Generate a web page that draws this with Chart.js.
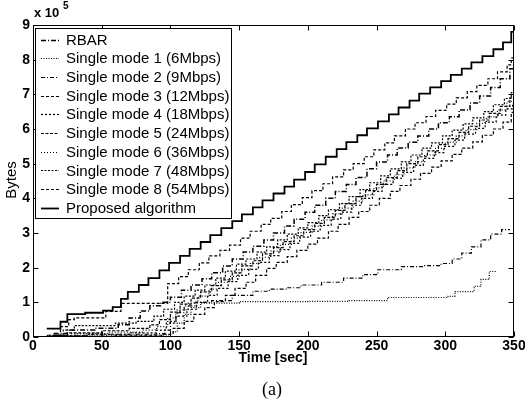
<!DOCTYPE html>
<html><head><meta charset="utf-8">
<script src="https://cdn.jsdelivr.net/npm/chart.js@4/dist/chart.umd.min.js"></script>
<style>html,body{margin:0;padding:0;background:#fff;}</style>
</head><body>
<canvas id="c" width="525" height="405" style="width:525px;height:405px;display:block"></canvas>
<script>
// Values in units of 1e5 bytes; time in seconds. Each point = time at which value steps to new level.
const seriesNames = ["RBAR","Single mode 1 (6Mbps)","Single mode 2 (9Mbps)","Single mode 3 (12Mbps)","Single mode 4 (18Mbps)","Single mode 5 (24Mbps)","Single mode 6 (36Mbps)","Single mode 7 (48Mbps)","Single mode 8 (54Mbps)","Proposed algorithm"];
const xTicks = [0,50,100,150,200,250,300,350];
const yTicks = [0,1,2,3,4,5,6,7,8,9];

const tRBAR = [15,25,45,62,70,78,85,93,100,108,115,123,130,138,145,153,160,168,175,183,190,198,205,213,220,228,235,243,250,258,265,273,280,288,295,303,310,318,325,333,340,347,350];
const vRBAR = [0.1,0.2,0.25,0.35,0.55,0.75,0.9,1.0,1.15,1.35,1.5,1.68,1.85,2.05,2.25,2.45,2.62,2.8,3.0,3.2,3.4,3.6,3.8,4.0,4.2,4.4,4.6,4.85,5.05,5.25,5.45,5.62,5.8,6.0,6.18,6.35,6.55,6.75,6.95,7.2,7.45,7.74,7.74];

const tSM1 = [10,50,95,100,105,110,115,122,150,200,230,258,302,307,321,326,332,337];
const vSM1 = [0.03,0.05,0.06,0.15,0.4,0.65,0.85,0.98,1.02,1.03,1.05,1.14,1.17,1.31,1.46,1.66,1.89,1.89];

const tSM2 = [10,40,90,96,100,104,110,118,130,145,160,172,185,195,210,226,240,251,268,285,297,305,312,319,326,333,341,347];
const vSM2 = [0.05,0.08,0.1,0.2,0.45,0.7,0.9,1.0,1.05,1.2,1.32,1.38,1.42,1.5,1.58,1.7,1.8,1.94,2.03,2.06,2.12,2.25,2.42,2.6,2.8,2.97,3.1,3.1];

const tSM3 = [20,60,95,102,110,117,125,132,140,147,155,162,170,177,185,192,200,207,215,222,230,237,245,252,260,267,275,282,290,297,305,312,320,327,335,342,348,350];
const vSM3 = [0.02,0.05,0.08,0.25,0.45,0.65,0.85,1.02,1.2,1.4,1.58,1.78,1.98,2.15,2.32,2.5,2.68,2.85,3.05,3.25,3.45,3.62,3.8,4.0,4.2,4.37,4.55,4.72,4.9,5.08,5.27,5.45,5.63,5.82,6.0,6.2,6.48,6.48];

const tSM4 = [18,40,70,90,97,104,112,119,127,134,142,149,157,164,172,179,187,194,202,209,217,224,232,239,247,254,262,269,277,284,292,299,307,314,322,329,337,344,349,350];
const vSM4 = [0.03,0.08,0.12,0.2,0.4,0.6,0.8,1.0,1.2,1.4,1.6,1.78,1.95,2.15,2.35,2.52,2.7,2.88,3.05,3.22,3.4,3.6,3.8,4.0,4.2,4.4,4.58,4.75,4.95,5.15,5.32,5.5,5.68,5.85,6.02,6.2,6.4,6.58,6.75,6.75];

const tSM5 = [15,25,50,70,85,92,100,107,115,122,130,137,145,152,160,167,175,182,190,197,205,212,220,227,235,242,250,257,265,272,280,287,295,302,310,317,325,332,340,347,350];
const vSM5 = [0.05,0.12,0.18,0.25,0.35,0.5,0.72,0.95,1.12,1.3,1.48,1.65,1.85,2.05,2.2,2.4,2.58,2.75,2.92,3.1,3.28,3.45,3.65,3.85,4.05,4.22,4.4,4.6,4.8,5.0,5.2,5.37,5.55,5.72,5.9,6.08,6.26,6.45,6.65,6.9,6.9];

const tSM6 = [14,28,55,80,90,98,105,113,120,128,135,143,150,158,165,173,180,188,195,203,210,218,225,233,240,248,255,263,270,278,285,293,300,308,315,323,330,338,345,350];
const vSM6 = [0.04,0.1,0.14,0.2,0.3,0.55,0.78,0.98,1.18,1.38,1.58,1.75,1.95,2.12,2.3,2.48,2.67,2.85,3.02,3.2,3.38,3.55,3.72,3.92,4.1,4.3,4.5,4.68,4.88,5.06,5.25,5.44,5.62,5.8,5.98,6.16,6.35,6.55,6.8,6.8];

const tSM7 = [12,22,30,60,75,88,95,103,110,118,125,133,140,148,155,163,170,178,185,193,200,208,215,223,230,238,245,253,260,268,275,283,290,298,305,313,320,328,335,343,348,350];
const vSM7 = [0.05,0.2,0.33,0.4,0.45,0.6,0.8,1.0,1.18,1.35,1.5,1.7,1.9,2.1,2.25,2.45,2.6,2.8,2.97,3.15,3.3,3.5,3.67,3.85,4.05,4.25,4.45,4.65,4.85,5.05,5.25,5.45,5.6,5.8,5.97,6.15,6.32,6.5,6.7,6.88,7.05,7.05];

const tSM8 = [15,20,26,30,53,64,98,106,113,121,128,136,143,151,158,166,173,181,188,196,203,211,218,226,233,241,248,256,263,271,278,286,293,301,308,316,323,331,338,345,348,350];
const vSM8 = [0.05,0.3,0.5,0.55,0.74,0.97,1.54,1.74,1.94,2.14,2.34,2.5,2.65,2.85,3.05,3.25,3.42,3.62,3.82,4.02,4.22,4.42,4.62,4.82,5.0,5.2,5.4,5.6,5.8,6.0,6.18,6.36,6.54,6.72,6.9,7.08,7.26,7.45,7.65,7.85,8.05,8.05];

const tProp = [10,20,25,38,51,58,64,69,77,84,92,99,107,114,122,129,137,145,152,160,167,175,183,190,198,205,213,221,228,236,243,251,259,266,274,281,289,297,304,312,319,327,335,342,348,350];
const vProp = [0.24,0.44,0.66,0.7,0.76,0.86,1.1,1.3,1.5,1.7,1.92,2.14,2.34,2.54,2.74,2.94,3.14,3.34,3.54,3.74,3.94,4.14,4.34,4.54,4.76,4.98,5.2,5.42,5.62,5.82,6.02,6.22,6.42,6.62,6.82,7.02,7.2,7.38,7.56,7.74,7.92,8.1,8.3,8.5,8.8,8.8];

const times = [tRBAR,tSM1,tSM2,tSM3,tSM4,tSM5,tSM6,tSM7,tSM8,tProp];
const values = [vRBAR,vSM1,vSM2,vSM3,vSM4,vSM5,vSM6,vSM7,vSM8,vProp];
const dashes = [[5,2,1,2],[1,1.5],[4,2,1,2],[3,2],[2,2],[3,1.5],[1,2],[2,1.5],[3,2],[]];
const widths = [1.5,1.2,1.2,1.2,1.2,1.2,1.2,1.2,1.2,1.8];

const datasets = seriesNames.map((name,i)=>({
  label:name,
  data: times[i].map((t,j)=>({x:t,y:values[i][j]})),
  borderColor:'#000', borderWidth:widths[i], borderDash:dashes[i],
  pointRadius:0, stepped:'before', fill:false, tension:0
}));

const FONT = '"Liberation Sans", Arial, Helvetica, sans-serif';

const framePlugin = {
  id:'frame',
  afterDatasetsDraw(chart){
    const {ctx, chartArea:a, scales:{x,y}} = chart;
    ctx.save();
    ctx.strokeStyle='#000'; ctx.lineWidth=1; ctx.setLineDash([]);
    const L=Math.round(a.left)+0.5, R=Math.round(a.right)-0.5, T=Math.round(a.top)+0.5, B=Math.round(a.bottom)-0.5;
    ctx.strokeRect(L,T,R-L,B-T);
    ctx.beginPath();
    x.ticks.forEach(tk=>{const p=Math.round(x.getPixelForValue(tk.value))+0.5; ctx.moveTo(p,B); ctx.lineTo(p,B-5); ctx.moveTo(p,T); ctx.lineTo(p,T+5);});
    y.ticks.forEach(tk=>{const p=Math.round(y.getPixelForValue(tk.value))+0.5; ctx.moveTo(L,p); ctx.lineTo(L+5,p); ctx.moveTo(R,p); ctx.lineTo(R-5,p);});
    ctx.stroke();
    // legend box
    const bx=35.5, by=28.5, bw=196, bh=190;
    ctx.fillStyle='#fff'; ctx.fillRect(bx,by,bw,bh); ctx.strokeRect(bx,by,bw,bh);
    ctx.font='15px '+FONT; ctx.fillStyle='#000'; ctx.textBaseline='middle'; ctx.textAlign='left';
    chart.data.datasets.forEach((ds,i)=>{
      const yy = 39.5 + i*18.7;
      ctx.beginPath(); ctx.setLineDash(ds.borderDash||[]); ctx.lineWidth=ds.borderWidth;
      ctx.moveTo(41,Math.round(yy)+0.5); ctx.lineTo(59,Math.round(yy)+0.5); ctx.stroke();
      ctx.setLineDash([]);
      ctx.fillText(ds.label, 66, yy+1);
    });
    // titles
    ctx.font='bold 14px '+FONT; ctx.textAlign='center'; ctx.textBaseline='middle';
    ctx.fillText('Time [sec]', 273, 358);
    ctx.save(); ctx.translate(12,180); ctx.rotate(-Math.PI/2); ctx.font='15px '+FONT; ctx.fillText('Bytes',0,0); ctx.restore();
    ctx.textAlign='left'; ctx.font='bold 13px '+FONT; ctx.fillText('x 10', 34, 13);
    ctx.font='bold 10px '+FONT; ctx.fillText('5', 63, 6);
    ctx.font='18px "Liberation Serif", "DejaVu Serif", serif'; ctx.textAlign='center';
    ctx.fillText('(a)', 272, 390);
    ctx.restore();
  }
};

new Chart(document.getElementById('c'), {
  type:'line',
  data:{datasets},
  options:{
    responsive:false, animation:false, devicePixelRatio:1,
    layout:{padding:{top:25,right:11,left:0,bottom:0}},
    plugins:{legend:{display:false}, tooltip:{enabled:false}},
    scales:{
      x:{type:'linear', min:0, max:350,
        afterBuildTicks:s=>{s.ticks=xTicks.map(v=>({value:v}));},
        afterFit:s=>{s.height=68; s.paddingLeft=0; s.paddingRight=0;},
        grid:{display:false, drawTicks:false}, border:{display:false},
        ticks:{padding:1, color:'#000', font:{family:FONT,size:14,weight:'bold'}, maxRotation:0, autoSkip:false}},
      y:{type:'linear', min:0, max:9,
        afterBuildTicks:s=>{s.ticks=yTicks.map(v=>({value:v}));},
        afterFit:s=>{s.width=33; s.paddingTop=0; s.paddingBottom=0;},
        grid:{display:false, drawTicks:false}, border:{display:false},
        ticks:{padding:3, color:'#000', font:{family:FONT,size:14,weight:'bold'}, autoSkip:false}}
    }
  },
  plugins:[framePlugin]
});
</script>
</body></html>
